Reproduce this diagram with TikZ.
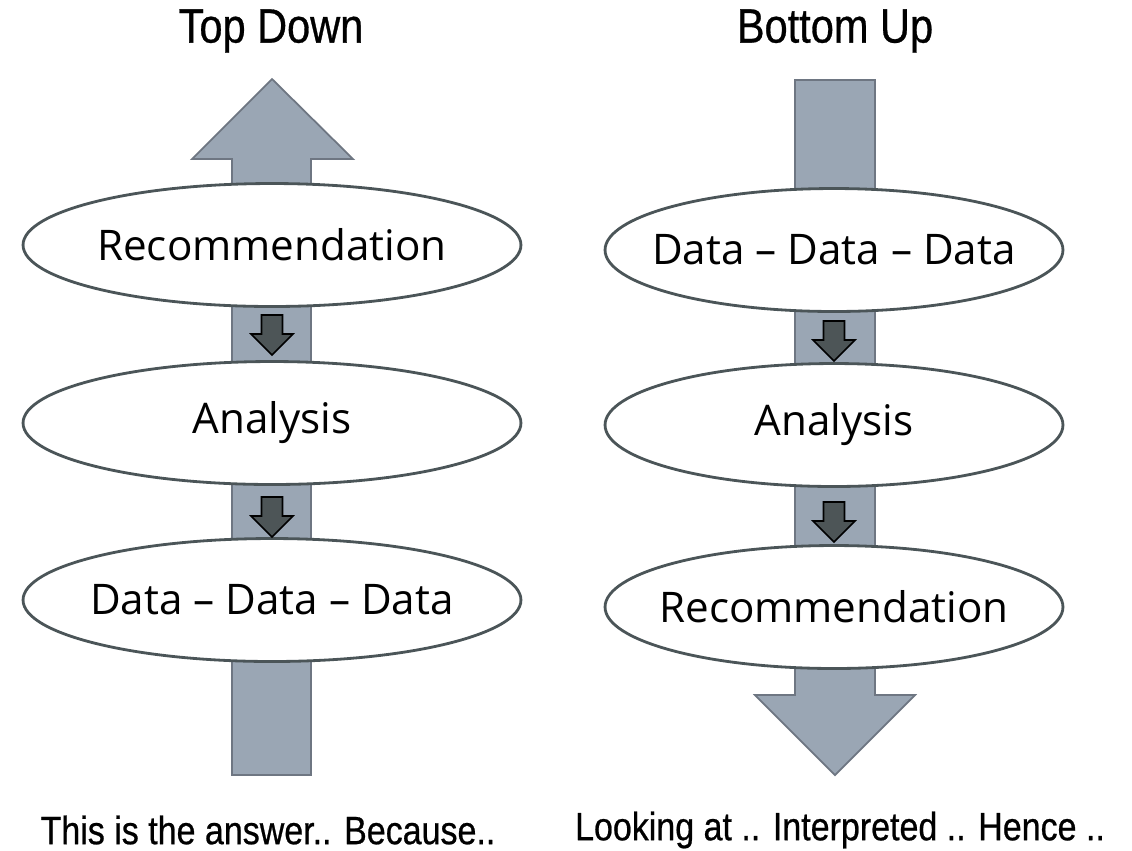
\documentclass[tikz,border=0pt]{standalone}
\usepackage{fontspec}
\setmainfont{Open Sans}
\newfontfamily\condfont[FakeStretch=0.86, FakeBold=0.6]{Liberation Sans}
\usetikzlibrary{shapes.geometric}

\definecolor{bigfill}{RGB}{154,166,180}
\definecolor{bigline}{RGB}{110,118,130}
\definecolor{ringline}{RGB}{75,85,88}
\definecolor{smallfill}{RGB}{77,85,87}

\begin{document}
\begin{tikzpicture}[x=0.02cm, y=-0.02cm,
  bigarrow/.style={fill=bigfill, draw=bigline, line width=1pt, line join=miter},
  smallarrow/.style={fill=smallfill, draw=black, line width=0.9pt, line join=miter},
  stage/.style={ellipse, draw=ringline, fill=white, line width=1.6pt, inner sep=0pt,
    minimum height=2.46cm, font=\fontsize{24}{28}\selectfont},
  wide/.style={stage, minimum width=9.96cm},
  narrow/.style={stage, minimum width=9.16cm},
  heading/.style={font=\condfont\fontsize{27.5}{32}\selectfont},
  caption/.style={font=\condfont\fontsize{22.5}{26}\selectfont}]
\useasboundingbox (0,0) rectangle (1132,850);

% top down
\draw[bigarrow] (272,79) -- (353,159) -- (311,159) -- (311,775) -- (232,775) -- (232,159) -- (192,159) -- cycle;
\node[wide] (tdrec) at (272,245) {\makebox[0pt]{Recommendation}};
\node[wide] (tdana) at (272,423) {\makebox[0pt]{Analysis}};
\node[wide] (tddat) at (272,600) {\makebox[0pt]{Data -- Data -- Data}};

% bottom up
\draw[bigarrow] (795,80) -- (875,80) -- (875,695) -- (915,695) -- (835,775) -- (755,695) -- (795,695) -- cycle;
\node[narrow] (budat) at (834,250) {\makebox[0pt]{Data -- Data -- Data}};
\node[narrow] (buana) at (834,425) {\makebox[0pt]{Analysis}};
\node[narrow] (burec) at (834,607) {\makebox[0pt]{Recommendation}};

\foreach \x/\y in {272/315, 272/497, 834/321, 834/502}
  \draw[smallarrow] ({\x-10.5},\y) -- ({\x+10.5},\y) -- ({\x+10.5},\y+19) -- ({\x+21},\y+19)
    -- (\x,\y+40) -- ({\x-21},\y+19) -- ({\x-10.5},\y+19) -- cycle;

\node[heading] (tdtitle) at (271,31) {Top Down};
\node[heading] (butitle) at (835,31) {Bottom Up};
\node[caption] (tdnote) at (268,830) {This is the answer.. Because..};
\node[caption] (bunote) at (840,830) {Looking at .. Interpreted .. Hence ..};
\end{tikzpicture}
\end{document}
